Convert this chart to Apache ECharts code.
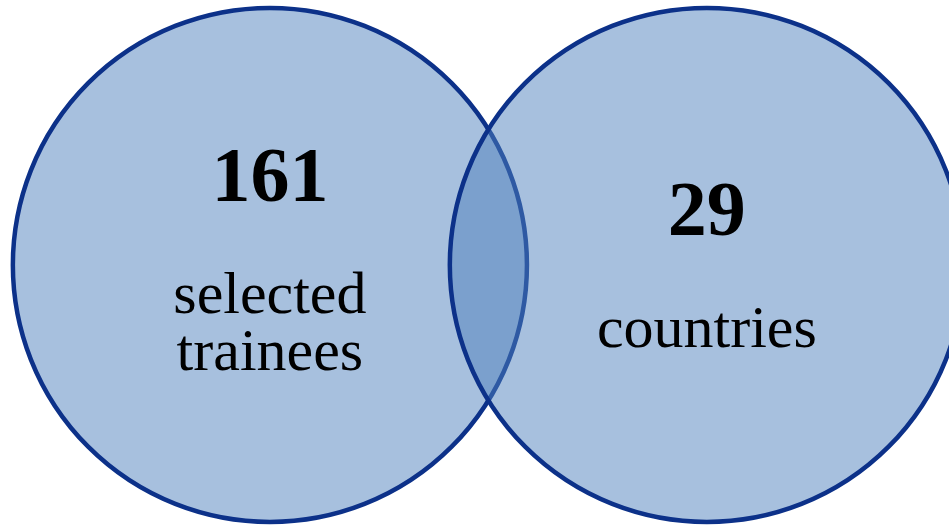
<!DOCTYPE html>
<html>
<head>
<meta charset="utf-8">
<script src="https://cdn.jsdelivr.net/npm/echarts@6/dist/echarts.min.js"></script>
<style>
  html, body { margin: 0; padding: 0; background: #ffffff; }
  #chart { width: 949px; height: 525px; }
</style>
</head>
<body>
<div id="chart"></div>
<script>
// two sets of the venn diagram
var setCounts = [161, 29];
var setNames = [['selected', 'trainees'], ['countries']];
var centerX = [0, 1.7];
var centerY = [0, 0];
var radius = [1, 1];

var chart = echarts.init(document.getElementById('chart'));

var circleData = setCounts.map(function (v, i) {
  return [centerX[i], centerY[i], radius[i], v];
});

var fontFamily = '"Liberation Serif", "DejaVu Serif", serif';

var option = {
  animation: false,
  grid: { left: 0, right: 0, top: 0, bottom: 0 },
  xAxis: { type: 'value', min: -1.05, max: 2.642, show: false },
  yAxis: { type: 'value', min: -1.012, max: 1.031, show: false },
  series: [
    {
      name: 'circles',
      type: 'custom',
      coordinateSystem: 'cartesian2d',
      silent: true,
      data: circleData,
      renderItem: function (params, api) {
        var c = api.coord([api.value(0), api.value(1)]);
        var r = api.size([api.value(2), 0])[0];
        return {
          type: 'circle',
          shape: { cx: c[0], cy: c[1], r: r },
          style: {
            fill: 'rgba(79, 129, 189, 0.5)',
            stroke: '#0c3189',
            lineWidth: 4.5
          }
        };
      }
    },
    {
      name: 'labels',
      type: 'custom',
      coordinateSystem: 'cartesian2d',
      silent: true,
      z: 5,
      data: circleData,
      renderItem: function (params, api) {
        var i = params.dataIndex;
        var c = api.coord([api.value(0), api.value(1)]);
        var names = setNames[i];
        // baseline of the number, shifted down when fewer name lines
        var numBase = c[1] - 57 + (2 - names.length) * 34;
        var children = [{
          type: 'text',
          x: c[0],
          y: numBase - 27,
          style: {
            text: String(setCounts[i]),
            fontFamily: fontFamily,
            fontWeight: 'bold',
            fontSize: 78,
            fill: '#000000',
            align: 'center',
            verticalAlign: 'middle'
          }
        }];
        names.forEach(function (line, k) {
          children.push({
            type: 'text',
            x: c[0],
            y: numBase + 105 + k * 57 - 16,
            style: {
              text: line,
              fontFamily: fontFamily,
              fontSize: 60,
              fill: '#000000',
              align: 'center',
              verticalAlign: 'middle'
            }
          });
        });
        return { type: 'group', children: children };
      }
    }
  ]
};

chart.setOption(option);
</script>
</body>
</html>
